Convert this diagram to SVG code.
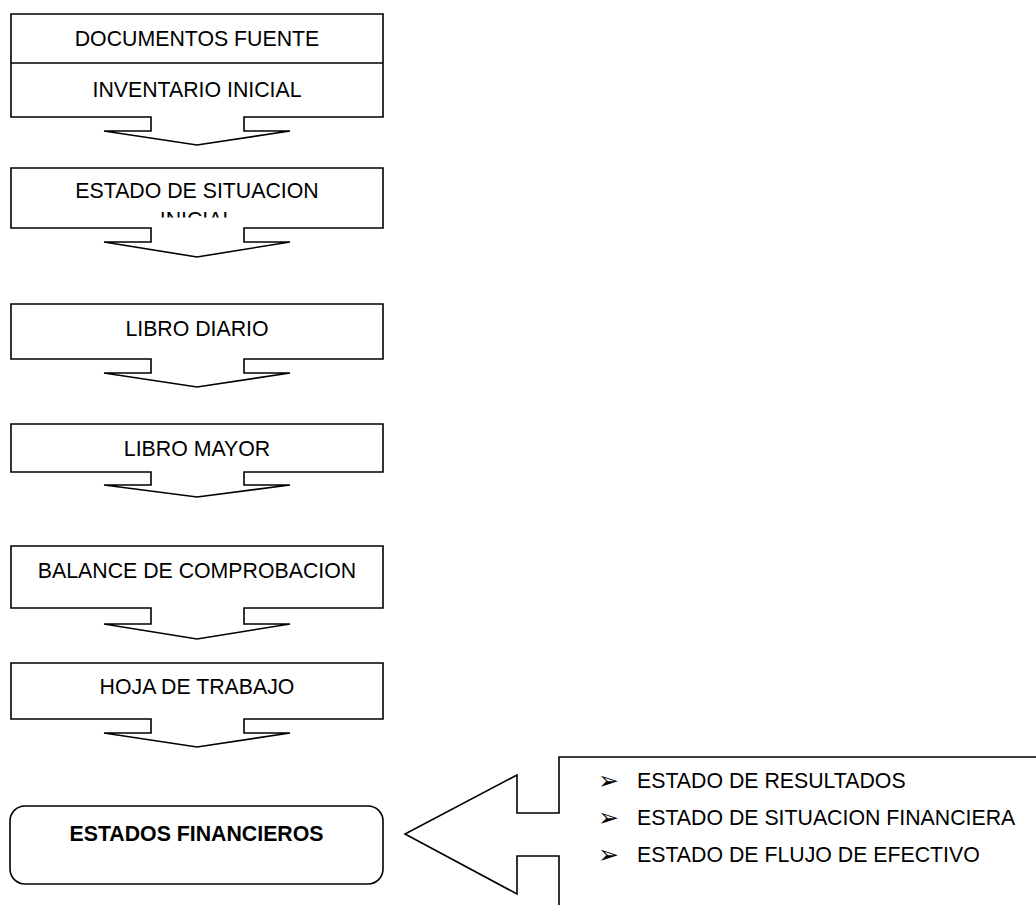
<svg xmlns="http://www.w3.org/2000/svg" width="1036" height="905" viewBox="0 0 1036 905">
<defs>
<style>
.shape{fill:#fff;stroke:#000;stroke-width:1.6;stroke-linejoin:miter}
.t{font-family:"Liberation Sans",Arial,sans-serif;font-size:21.3px;fill:#000}
.c{text-anchor:middle}
.b{font-weight:bold}
.bul{font-family:"DejaVu Sans",sans-serif;font-size:25px;fill:#000}
</style>
<clipPath id="clip2"><rect x="12" y="169" width="370" height="48.5"/></clipPath>
</defs>
<rect width="1036" height="905" fill="#fff"/>
<g id="node-documentos">
<path class="shape" d="M11,14 H383 V117 H244 V131 H290 L197,145 L104,131 H151 V117 H11 Z"/>
<line x1="11" y1="63" x2="383" y2="63" stroke="#000" stroke-width="1.6"/>
<text class="t c" x="197" y="46">DOCUMENTOS FUENTE</text>
<text class="t c" x="197" y="97">INVENTARIO INICIAL</text>
</g>
<g id="node-situacion">
<path class="shape" d="M11,168 H383 V228 H244 V242 H290 L197,257 L104,242 H151 V228 H11 Z"/>
<g clip-path="url(#clip2)">
<text class="t c" x="197" y="198">ESTADO DE SITUACION</text>
<text class="t c" x="197" y="227">INICIAL</text>
</g>
</g>
<g id="node-diario">
<path class="shape" d="M11,304 H383 V359 H244 V373 H290 L197,387 L104,373 H151 V359 H11 Z"/>
<text class="t c" x="197" y="336">LIBRO DIARIO</text>
</g>
<g id="node-mayor">
<path class="shape" d="M11,424 H383 V472 H244 V485 H290 L197,497 L104,485 H151 V472 H11 Z"/>
<text class="t c" x="197" y="456">LIBRO MAYOR</text>
</g>
<g id="node-balance">
<path class="shape" d="M11,546 H383 V608 H244 V624 H290 L197,639 L104,624 H151 V608 H11 Z"/>
<text class="t c" x="197" y="578">BALANCE DE COMPROBACION</text>
</g>
<g id="node-hoja">
<path class="shape" d="M11,663 H383 V719 H244 V733 H290 L197,747 L104,733 H151 V719 H11 Z"/>
<text class="t c" x="197" y="694">HOJA DE TRABAJO</text>
</g>
<g id="node-estados">
<rect class="shape" x="10" y="806" width="373" height="78" rx="15" ry="15"/>
<text class="t c b" x="196.5" y="841">ESTADOS FINANCIEROS</text>
</g>
<g id="node-lista">
<path class="shape" d="M1040,757 H559 V813 H517 V775 L405,834 L517,894 V856 H559 V910"/>
<text class="bul" x="598" y="789">➢</text>
<text class="t" x="637" y="788">ESTADO DE RESULTADOS</text>
<text class="bul" x="598" y="826">➢</text>
<text class="t" x="637" y="825">ESTADO DE SITUACION FINANCIERA</text>
<text class="bul" x="598" y="863">➢</text>
<text class="t" x="637" y="862">ESTADO DE FLUJO DE EFECTIVO</text>
</g>
<g id="connectors"></g>
</svg>
